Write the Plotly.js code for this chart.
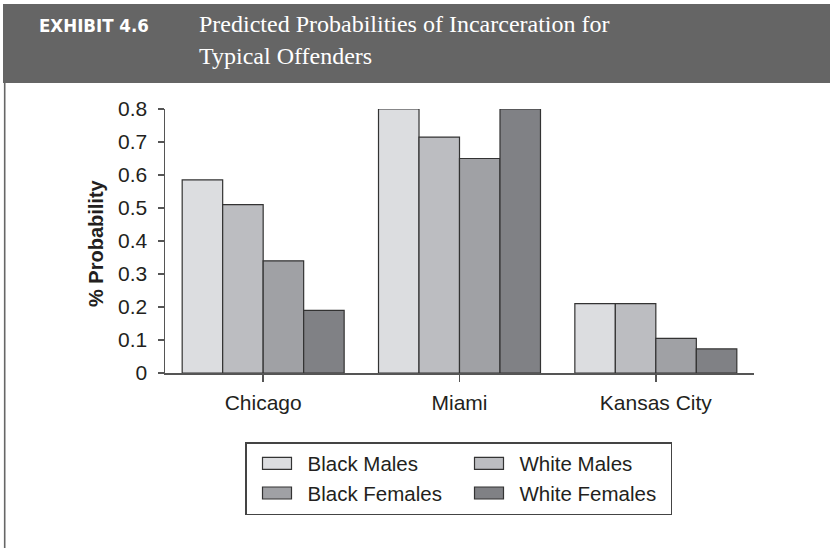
<!DOCTYPE html>
<html>
<head>
<meta charset="utf-8">
<script src="https://cdn.plot.ly/plotly-3.0.1.min.js"></script>
<style>
  html, body { margin: 0; padding: 0; background: #ffffff; }
  #chart { width: 830px; height: 548px; }
</style>
</head>
<body>
<div id="chart"></div>
<script>
// ---- data ----
const cities = ["Chicago", "Miami", "Kansas City"];
const seriesNames = ["Black Males", "White Males", "Black Females", "White Females"];
const blackMales   = [0.585, 0.80, 0.21];
const whiteMales   = [0.51, 0.715, 0.21];
const blackFemales = [0.34, 0.65, 0.105];
const whiteFemales = [0.19, 0.80, 0.073];
const yTickVals = [0, 0.1, 0.2, 0.3, 0.4, 0.5, 0.6, 0.7, 0.8];
const yTickText = ["0", "0.1", "0.2", "0.3", "0.4", "0.5", "0.6", "0.7", "0.8"];
const exhibitLabel = "EXHIBIT 4.6";
const titleLines = ["Predicted Probabilities of Incarceration for", "Typical Offenders"];
const yAxisTitle = "% Probability";

// ---- styling ----
const fills = ["#dcdde0", "#bcbdc1", "#a0a1a5", "#808185"];
const seriesValues = [blackMales, whiteMales, blackFemales, whiteFemales];
const sans = "Liberation Sans, Arial, sans-serif";
const textColor = "#231f20";

// plot area in pixels
const L = 165, R = 754, T = 109, B = 373, W = 830, H = 548;
const pw = R - L, ph = B - T;
const px = v => (v - L) / pw;
const py = v => (B - v) / ph;

const traces = seriesNames.map((name, i) => ({
  type: "bar",
  name: name,
  x: cities,
  y: seriesValues[i],
  marker: { color: fills[i], line: { color: "#333333", width: 1.2 } },
  hoverinfo: "skip"
}));

const layout = {
  width: W, height: H,
  margin: { l: L, r: W - R, t: T, b: H - B, pad: 0 },
  paper_bgcolor: "#ffffff",
  plot_bgcolor: "#ffffff",
  font: { family: sans, size: 20, color: textColor },
  barmode: "group",
  bargap: 0.175,
  bargroupgap: 0,
  showlegend: true,
  xaxis: {
    type: "category",
    range: [-0.5, 2.5],
    showline: true, linecolor: "#555555", linewidth: 1.5,
    ticks: "outside", ticklen: 7, tickcolor: "#555555", tickwidth: 1.5,
    showgrid: false, zeroline: false,
    tickfont: { family: sans, size: 21, color: textColor },
    ticklabelstandoff: 3,
    fixedrange: true
  },
  yaxis: {
    range: [0, 0.8],
    tickvals: yTickVals, ticktext: yTickText,
    showline: true, linecolor: "#555555", linewidth: 1.5,
    ticks: "outside", ticklen: 6, tickcolor: "#555555", tickwidth: 1.5,
    showgrid: false, zeroline: false,
    tickfont: { family: sans, size: 21, color: textColor },
    ticklabelstandoff: 6,
    fixedrange: true
  },
  legend: {
    orientation: "h",
    x: px(245), xanchor: "left",
    y: py(442), yanchor: "top",
    bordercolor: "#444444", borderwidth: 1.5,
    bgcolor: "#ffffff",
    font: { family: sans, size: 20.5, color: textColor },
    itemwidth: 51,
    entrywidth: 146, entrywidthmode: "pixels",
    traceorder: "normal",
    itemclick: false, itemdoubleclick: false
  },
  shapes: [
    { type: "rect", xref: "paper", yref: "paper",
      x0: px(3), x1: px(831), y0: py(83), y1: py(4),
      fillcolor: "#656565", line: { width: 0 }, layer: "below" },
    { type: "line", xref: "paper", yref: "paper",
      x0: px(4.7), x1: px(4.7), y0: py(83), y1: py(549),
      line: { color: "#666666", width: 1.6 } }
  ],
  annotations: [
    { text: "<b>" + exhibitLabel + "</b>", xref: "paper", yref: "paper",
      x: px(37), xanchor: "left", y: py(25.3), yanchor: "middle", showarrow: false,
      font: { family: "DejaVu Sans Condensed, DejaVu Sans, sans-serif", size: 18.5, color: "#ffffff" } },
    { text: titleLines[0], xref: "paper", yref: "paper",
      x: px(197), xanchor: "left", y: py(23.6), yanchor: "middle", showarrow: false,
      font: { family: "Liberation Serif, Times New Roman, serif", size: 24, color: "#ffffff" } },
    { text: titleLines[1], xref: "paper", yref: "paper",
      x: px(197), xanchor: "left", y: py(55.6), yanchor: "middle", showarrow: false,
      font: { family: "Liberation Serif, Times New Roman, serif", size: 24, color: "#ffffff" } },
    { text: "<b>" + yAxisTitle + "</b>", xref: "paper", yref: "paper",
      x: px(96), xanchor: "center", y: py(243), yanchor: "middle", showarrow: false,
      textangle: -90,
      font: { family: sans, size: 20, color: textColor } }
  ]
};

Plotly.newPlot("chart", traces, layout, { staticPlot: true, displayModeBar: false }).then(gd => {
  // widen legend swatches to match the reference's rectangular keys
  gd.querySelectorAll(".legend .legendpoints path").forEach(p => {
    p.setAttribute("d", "M14.5,6H-14.5V-6H14.5Z");
  });
});
</script>
</body>
</html>
